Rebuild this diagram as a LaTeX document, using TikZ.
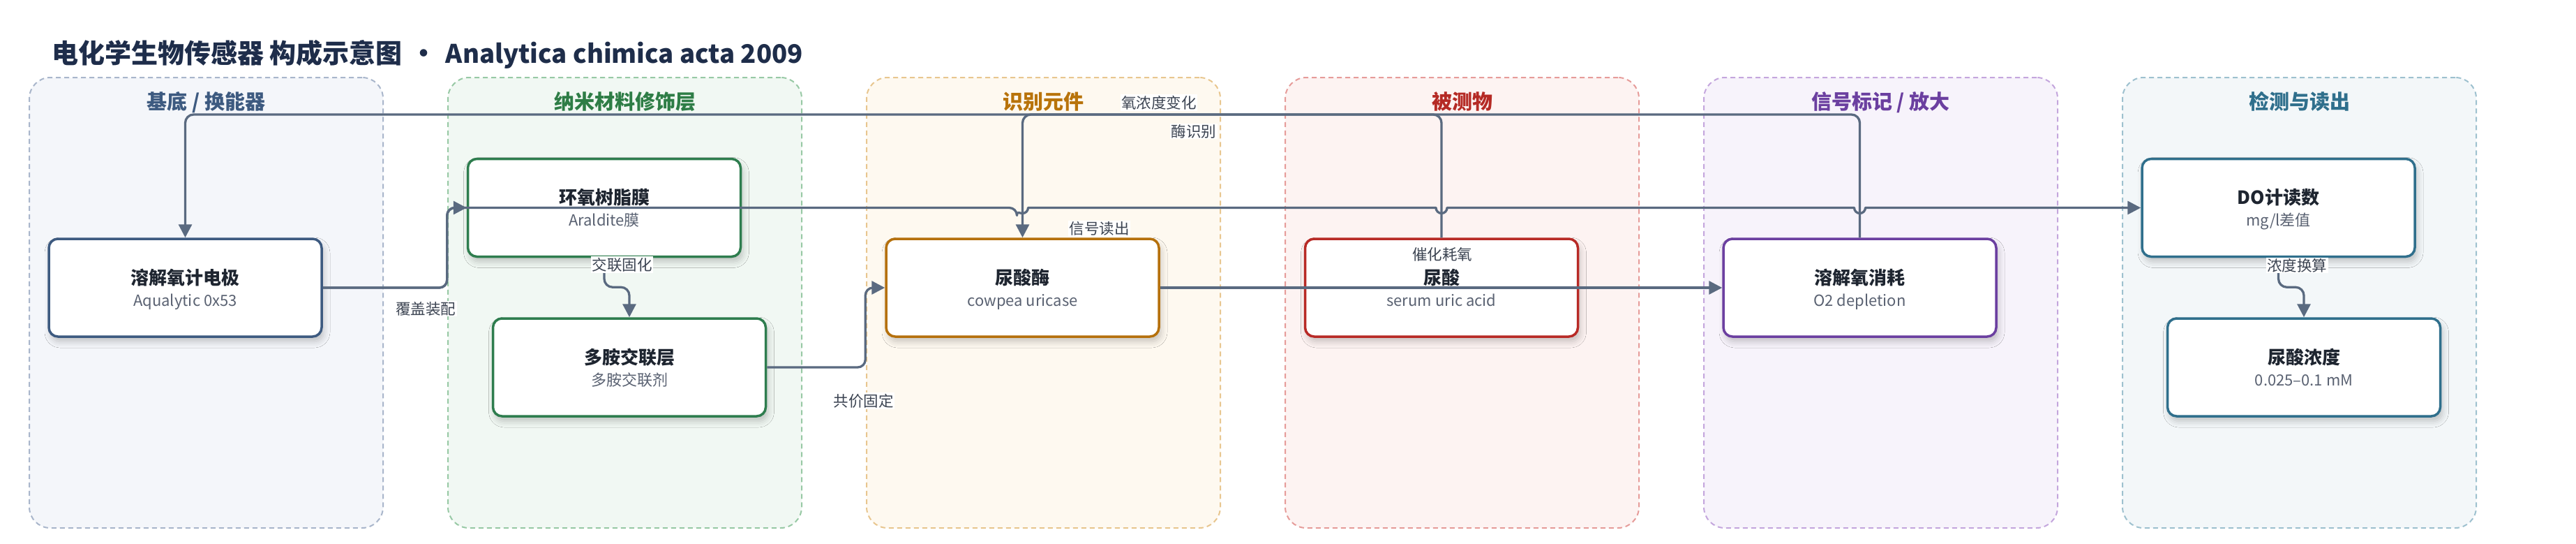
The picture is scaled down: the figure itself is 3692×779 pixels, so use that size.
\documentclass[tikz,border=0pt]{standalone}
\usepackage{fontspec}
\setmainfont{Noto Sans CJK SC}
\usetikzlibrary{arrows.meta,calc,shadows.blur}
\definecolor{conncol}{HTML}{5A6A80}
\definecolor{maintitle}{HTML}{1E2D4A}
\definecolor{boxtitle}{HTML}{1E2530}
\definecolor{boxsub}{HTML}{5A6272}
\definecolor{labcol}{HTML}{3C4452}
\definecolor{pAfill}{HTML}{F4F6FA}\definecolor{pAdraw}{HTML}{A9B6CB}\definecolor{pAtext}{HTML}{3D5A80}
\definecolor{pBfill}{HTML}{F1F8F3}\definecolor{pBdraw}{HTML}{98C9A5}\definecolor{pBtext}{HTML}{2E7D46}
\definecolor{pCfill}{HTML}{FEF9F0}\definecolor{pCdraw}{HTML}{E8C68F}\definecolor{pCtext}{HTML}{B8730A}
\definecolor{pDfill}{HTML}{FDF3F2}\definecolor{pDdraw}{HTML}{E69C9A}\definecolor{pDtext}{HTML}{B52A25}
\definecolor{pEfill}{HTML}{F7F3FB}\definecolor{pEdraw}{HTML}{C4A6DD}\definecolor{pEtext}{HTML}{6B3FA0}
\definecolor{pFfill}{HTML}{F3F7F9}\definecolor{pFdraw}{HTML}{9EC1CF}\definecolor{pFtext}{HTML}{2F6F8C}
\definecolor{bA}{HTML}{3D5A80}
\definecolor{bB}{HTML}{2E7D4E}
\definecolor{bC}{HTML}{B5700C}
\definecolor{bD}{HTML}{B82A26}
\definecolor{bE}{HTML}{6B3FA0}
\definecolor{bF}{HTML}{2F6F8C}
\begin{document}
\begin{tikzpicture}[x=1pt,y=-1pt,
  panel/.style={rectangle, rounded corners=30pt, dash pattern=on 7pt off 5pt, line width=2pt,
    minimum width=507pt, minimum height=645pt, inner sep=0pt},
  ptitle/.style={anchor=base, inner sep=0pt, font=\bfseries\fontsize{29}{32}\selectfont},
  box/.style={rectangle, rounded corners=13pt, line width=3.5pt, fill=white,
    minimum width=391pt, minimum height=140pt, inner sep=0pt,
    blur shadow={shadow xshift=3pt, shadow yshift=-7pt, shadow blur radius=9pt, shadow opacity=22}},
  btitle/.style={anchor=base, inner sep=0pt, text=boxtitle, font=\bfseries\fontsize{26}{28}\selectfont},
  bsub/.style={anchor=base, inner sep=0pt, text=boxsub, font=\fontsize{22}{24}\selectfont},
  lab/.style={fill=white, inner sep=1.5pt, text=labcol, font=\fontsize{21.5}{23}\selectfont},
  conn/.style={draw=conncol, line width=3.3pt, line join=round},
  arr/.style={-{Triangle[length=19pt,width=19pt]}}
]
\useasboundingbox (0,0) rectangle (3692,779);
\fill[white] (0,0) rectangle (3692,779);

% title
\node[anchor=base west, inner sep=0pt, text=maintitle, font=\bfseries\fontsize{38}{42}\selectfont] (title) at (74,90)
  {电化学生物传感器 构成示意图\hspace{12pt}·\hspace{12pt}{\fontsize{36.6}{42}\selectfont Analytica chimica acta 2009}};

% panels
\node[panel, draw=pAdraw, fill=pAfill] (pA) at (295.5,433.5) {};
\node[panel, draw=pBdraw, fill=pBfill] (pB) at (895.5,433.5) {};
\node[panel, draw=pCdraw, fill=pCfill] (pC) at (1495.5,433.5) {};
\node[panel, draw=pDdraw, fill=pDfill] (pD) at (2095.5,433.5) {};
\node[panel, draw=pEdraw, fill=pEfill] (pE) at (2695.5,433.5) {};
\node[panel, draw=pFdraw, fill=pFfill] (pF) at (3295.5,433.5) {};

\node[ptitle, text=pAtext] (tA) at (295.5,156) {基底 / 换能器};
\node[ptitle, text=pBtext] (tB) at (895.5,156) {纳米材料修饰层};
\node[ptitle, text=pCtext] (tC) at (1495.5,156) {识别元件};
\node[ptitle, text=pDtext] (tD) at (2095.5,156) {被测物};
\node[ptitle, text=pEtext] (tE) at (2695.5,156) {信号标记 / 放大};
\node[ptitle, text=pFtext] (tF) at (3295.5,156) {检测与读出};

% boxes
\node[box, draw=bA] (n1) at (265.5,412) {};
\node[box, draw=bB] (n2) at (866,297.5) {};
\node[box, draw=bB] (n3) at (902,526) {};
\node[box, draw=bC] (n4) at (1465.5,412) {};
\node[box, draw=bD] (n5) at (2066,412) {};
\node[box, draw=bE] (n6) at (2665.5,412) {};
\node[box, draw=bF] (n7) at (3265.5,297.5) {};
\node[box, draw=bF] (n8) at (3302,526) {};

\node[btitle] (n1t) at ([yshift=5pt]n1.center) {溶解氧计电极};
\node[bsub]   (n1s) at ([yshift=-26pt]n1.center) {Aqualytic 0x53};
\node[btitle] (n2t) at ([yshift=5pt]n2.center) {环氧树脂膜};
\node[bsub]   (n2s) at ([yshift=-26pt]n2.center) {Araldite膜};
\node[btitle] (n3t) at ([yshift=5pt]n3.center) {多胺交联层};
\node[bsub]   (n3s) at ([yshift=-26pt]n3.center) {多胺交联剂};
\node[btitle] (n4t) at ([yshift=5pt]n4.center) {尿酸酶};
\node[bsub]   (n4s) at ([yshift=-26pt]n4.center) {cowpea uricase};
\node[btitle] (n5t) at ([yshift=5pt]n5.center) {尿酸};
\node[bsub]   (n5s) at ([yshift=-26pt]n5.center) {serum uric acid};
\node[btitle] (n6t) at ([yshift=5pt]n6.center) {溶解氧消耗};
\node[bsub]   (n6s) at ([yshift=-26pt]n6.center) {O2 depletion};
\node[btitle] (n7t) at ([yshift=5pt]n7.center) {DO计读数};
\node[bsub]   (n7s) at ([yshift=-26pt]n7.center) {mg/l差值};
\node[btitle] (n8t) at ([yshift=5pt]n8.center) {尿酸浓度};
\node[bsub]   (n8s) at ([yshift=-26pt]n8.center) {0.025–0.1 mM};

% connectors
\coordinate (topY) at (0,164);
\coordinate (jog) at ($(n2.west)+(-28,0)$);

% oxygen concentration change: n6 -> n1 over the top
\draw[conn,arr,rounded corners=12pt] (n6.north) -- (n6.north |- topY) -| (n1.north);
% enzyme recognition: n5 -> n4 over the top
\draw[conn,arr,rounded corners=12pt] (n5.north) -- (n5.north |- topY) -| (n4.north);

% cover assembly: n1 -> n2
\draw[conn,arr,rounded corners=11pt] (n1.east) -| (jog) -- (n2.west);
% signal readout: n1 -> n7 with hops
\draw[conn,arr] (n1.east) [rounded corners=11pt] -| (jog) -- ($(n4.north|-jog)+(-8,0)$) [sharp corners]
  arc[start angle=180,end angle=360,radius=8pt]
  -- ($(n5.north|-jog)+(-8,0)$) arc[start angle=180,end angle=360,radius=8pt]
  -- ($(n6.north|-jog)+(-8,0)$) arc[start angle=180,end angle=360,radius=8pt]
  -- (n7.west);

% crosslinking: n2 -> n3
\draw[conn,arr,rounded corners=12pt] (n2.south) |- ($(n3.north)+(0,-43)$) -- (n3.north);
% covalent immobilisation: n3 -> n4
\draw[conn,arr,rounded corners=11pt] (n3.east) -| ($(n4.west)+(-28,0)$) -- (n4.west);
% catalytic O2 consumption: n4 -> n6
\draw[conn,arr] (n4.east) -- (n6.west);
% concentration conversion: n7 -> n8
\draw[conn,arr,rounded corners=12pt] (n7.south) |- ($(n8.north)+(0,-43)$) -- (n8.north);

% labels
\node[lab] (l1) at (610,442) {覆盖装配};
\node[lab] (l2) at (891.5,379) {交联固化};
\node[lab] (l3) at (1237.5,574) {共价固定};
\node[lab] (l4) at (1575.5,327.5) {信号读出};
\node[lab] (l5) at (1661,147) {氧浓度变化};
\node[lab] (l6) at (1711,188) {酶识别};
\node[lab] (l7) at (2067,364) {催化耗氧};
\node[lab] (l8) at (3292,380) {浓度换算};
\end{tikzpicture}
\end{document}
